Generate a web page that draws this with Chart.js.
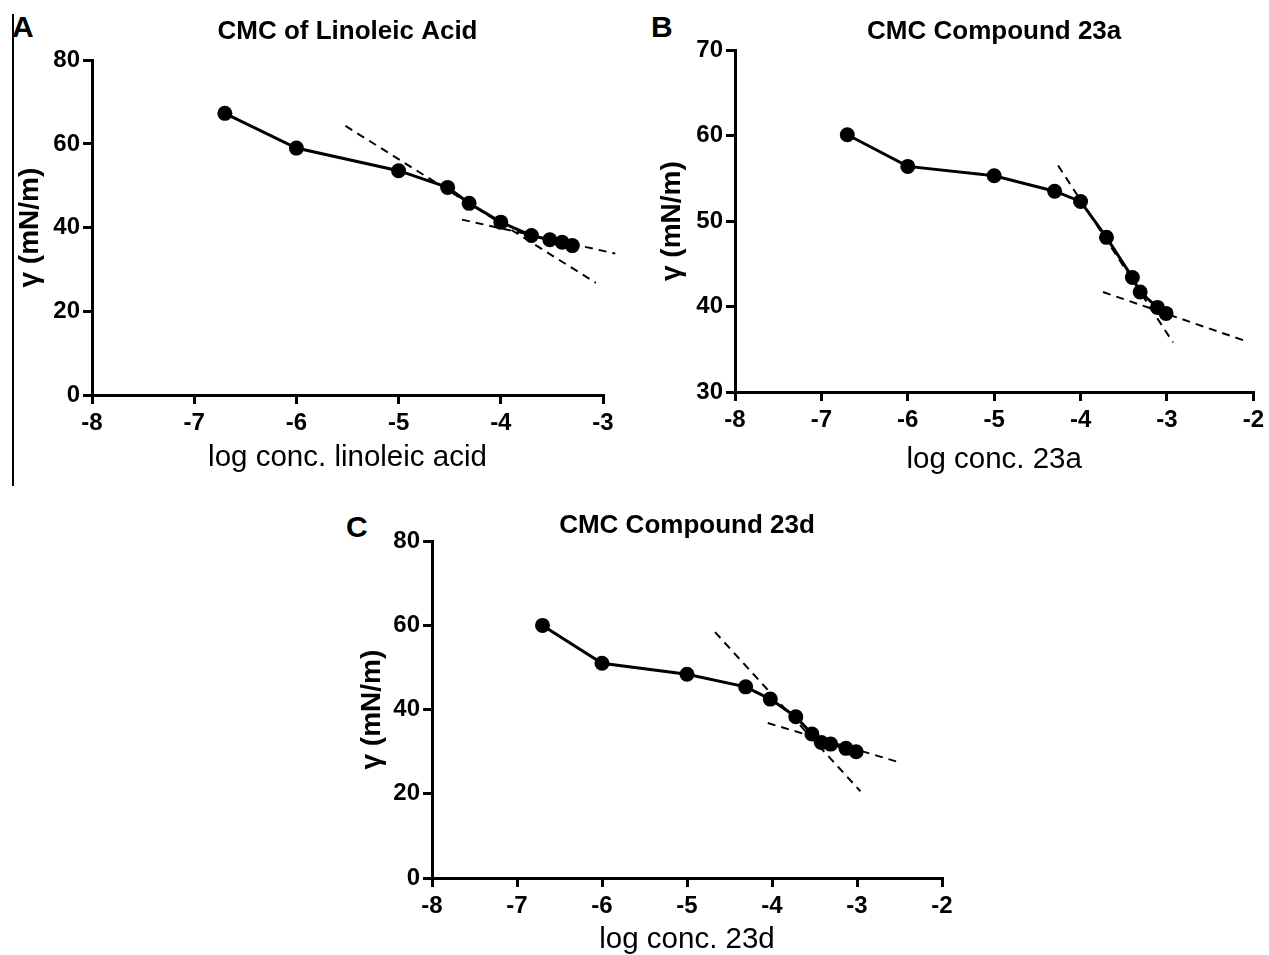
<!DOCTYPE html>
<html>
<head>
<meta charset="utf-8">
<script src="https://cdn.jsdelivr.net/npm/chart.js@4.4.1/dist/chart.umd.min.js"></script>
<style>
  body { margin: 0; background: #fff; width: 1269px; height: 955px; position: relative; overflow: hidden; }
  canvas { position: absolute; }
  .letra { position: absolute; font-family: 'Liberation Sans', Arial, sans-serif; font-weight: bold; font-size: 30px; color: #000; line-height: 1; }
  .borda { position: absolute; left: 12px; top: 14px; width: 1.5px; height: 472px; background: #000; }
</style>
</head>
<body>
<div class="borda"></div>
<div class="letra" style="left:12px; top:12px;">A</div>
<div class="letra" style="left:651px; top:12px;">B</div>
<div class="letra" style="left:346px; top:512px;">C</div>
<canvas id="graficoA" width="640" height="480" style="left:0px; top:0px;"></canvas>
<canvas id="graficoB" width="629" height="480" style="left:640px; top:0px;"></canvas>
<canvas id="graficoC" width="620" height="463" style="left:340px; top:495px;"></canvas>
<script>
// ----- Dados -----
// A: ácido linoleico
const logConcA = [-6.7, -6.0, -5.0, -4.52, -4.31, -4.0, -3.7, -3.52, -3.4, -3.3];
const tensaoA = [67.3, 59.0, 53.6, 49.6, 45.8, 41.3, 38.1, 37.1, 36.5, 35.7];
const retaA1X = [-5.52, -3.07];
const retaA1Y = [64.3, 26.8];
const retaA2X = [-4.38, -2.88];
const retaA2Y = [41.9, 33.8];

// B: composto 23a
const logConcB = [-6.7, -6.0, -5.0, -4.3, -4.0, -3.7, -3.4, -3.31, -3.11, -3.01];
const tensaoB = [60.1, 56.4, 55.3, 53.5, 52.3, 48.1, 43.4, 41.7, 39.9, 39.2];
const retaB1X = [-4.26, -2.93];
const retaB1Y = [56.5, 35.8];
const retaB2X = [-3.74, -2.07];
const retaB2Y = [41.7, 35.9];

// C: composto 23d
const logConcC = [-6.7, -6.0, -5.0, -4.31, -4.02, -3.72, -3.53, -3.42, -3.31, -3.13, -3.01];
const tensaoC = [60.0, 51.0, 48.4, 45.4, 42.5, 38.3, 34.2, 32.2, 31.8, 30.8, 30.0];
const retaC1X = [-4.67, -2.96];
const retaC1Y = [58.4, 20.6];
const retaC2X = [-4.05, -2.54];
const retaC2Y = [36.8, 27.7];

// títulos e eixos
const titulos = ['CMC of Linoleic Acid', 'CMC Compound 23a', 'CMC Compound 23d'];
const titulosX = ['log conc. linoleic acid', 'log conc. 23a', 'log conc. 23d'];
const tituloY = 'γ (mN/m)';
const eixoXA = { min: -8, max: -3, step: 1 };
const eixoXB = { min: -8, max: -2, step: 1 };
const eixoXC = { min: -8, max: -2, step: 1 };
const eixoYA = { min: 0, max: 80, step: 20 };
const eixoYB = { min: 30, max: 70, step: 10 };
const eixoYC = { min: 0, max: 80, step: 20 };

const FONTE = "'Liberation Sans', Arial, sans-serif";

const pontos = (xs, ys) => xs.map((x, i) => ({ x: x, y: ys[i] }));

function criarGrafico(id, titulo, tituloX, xs, ys, reta1, reta2, eixoX, eixoY, lay) {
  const ctx = document.getElementById(id).getContext('2d');

  const eixoComum = {
    grid: {
      display: true,
      drawOnChartArea: false,
      drawTicks: true,
      tickLength: 9,
      tickWidth: 3,
      tickColor: '#000',
      color: '#000',
      lineWidth: 3
    },
    border: { display: true, color: '#000', width: 3 }
  };

  const reta = (r) => ({
    data: pontos(r[0], r[1]),
    showLine: true,
    borderColor: '#000',
    borderWidth: 2,
    borderDash: [8, 6],
    pointRadius: 0,
    clip: false
  });

  return new Chart(ctx, {
    type: 'scatter',
    data: {
      datasets: [
        {
          data: pontos(xs, ys),
          showLine: true,
          borderColor: '#000',
          backgroundColor: '#000',
          borderWidth: 3,
          pointRadius: 7.5,
          pointBorderWidth: 0,
          tension: 0
        },
        reta(reta1),
        reta(reta2)
      ]
    },
    options: {
      responsive: false,
      animation: false,
      devicePixelRatio: 1,
      layout: { padding: { left: 0, right: lay.direita, top: 0, bottom: 0 } },
      plugins: {
        legend: { display: false },
        tooltip: { enabled: false },
        title: {
          display: true,
          text: titulo,
          fullSize: false,
          color: '#000',
          font: { family: FONTE, size: 26, weight: 'bold' },
          padding: { top: lay.tituloTopo, bottom: lay.tituloBase }
        }
      },
      scales: {
        x: {
          ...eixoComum,
          type: 'linear',
          min: eixoX.min,
          max: eixoX.max,
          afterBuildTicks: (s) => {
            s.ticks = [];
            for (let v = eixoX.min; v <= eixoX.max; v += eixoX.step) s.ticks.push({ value: v });
          },
          afterFit: (s) => { s.height = lay.alturaX; },
          ticks: {
            color: '#000',
            padding: 5,
            maxRotation: 0,
            font: { family: FONTE, size: 24, weight: 'bold' }
          },
          title: {
            display: true,
            text: tituloX,
            color: '#000',
            font: { family: FONTE, size: 29.5 },
            padding: { top: 0, bottom: lay.padTituloX }
          }
        },
        y: {
          ...eixoComum,
          type: 'linear',
          min: eixoY.min,
          max: eixoY.max,
          afterBuildTicks: (s) => {
            s.ticks = [];
            for (let v = eixoY.min; v <= eixoY.max; v += eixoY.step) s.ticks.push({ value: v });
          },
          afterFit: (s) => { s.width = lay.larguraY; },
          ticks: {
            color: '#000',
            padding: 3,
            font: { family: FONTE, size: 24, weight: 'bold' }
          },
          title: {
            display: true,
            text: tituloY,
            color: '#000',
            font: { family: FONTE, size: 28, weight: 'bold' },
            padding: { top: lay.padTituloY, bottom: 0 }
          }
        }
      }
    }
  });
}

criarGrafico('graficoA', titulos[0], titulosX[0], logConcA, tensaoA,
  [retaA1X, retaA1Y], [retaA2X, retaA2Y], eixoXA, eixoYA,
  { direita: 37, tituloTopo: 16, tituloBase: 13, alturaX: 85, padTituloX: 4, larguraY: 92, padTituloY: 13 });

criarGrafico('graficoB', titulos[1], titulosX[1], logConcB, tensaoB,
  [retaB1X, retaB1Y], [retaB2X, retaB2Y], eixoXB, eixoYB,
  { direita: 11, tituloTopo: 16, tituloBase: 3, alturaX: 88, padTituloX: 2, larguraY: 95, padTituloY: 15 });

criarGrafico('graficoC', titulos[2], titulosX[2], logConcC, tensaoC,
  [retaC1X, retaC1Y], [retaC2X, retaC2Y], eixoXC, eixoYC,
  { direita: 18, tituloTopo: 15, tituloBase: 0, alturaX: 80, padTituloX: 0, larguraY: 92, padTituloY: 15 });
</script>
</body>
</html>
